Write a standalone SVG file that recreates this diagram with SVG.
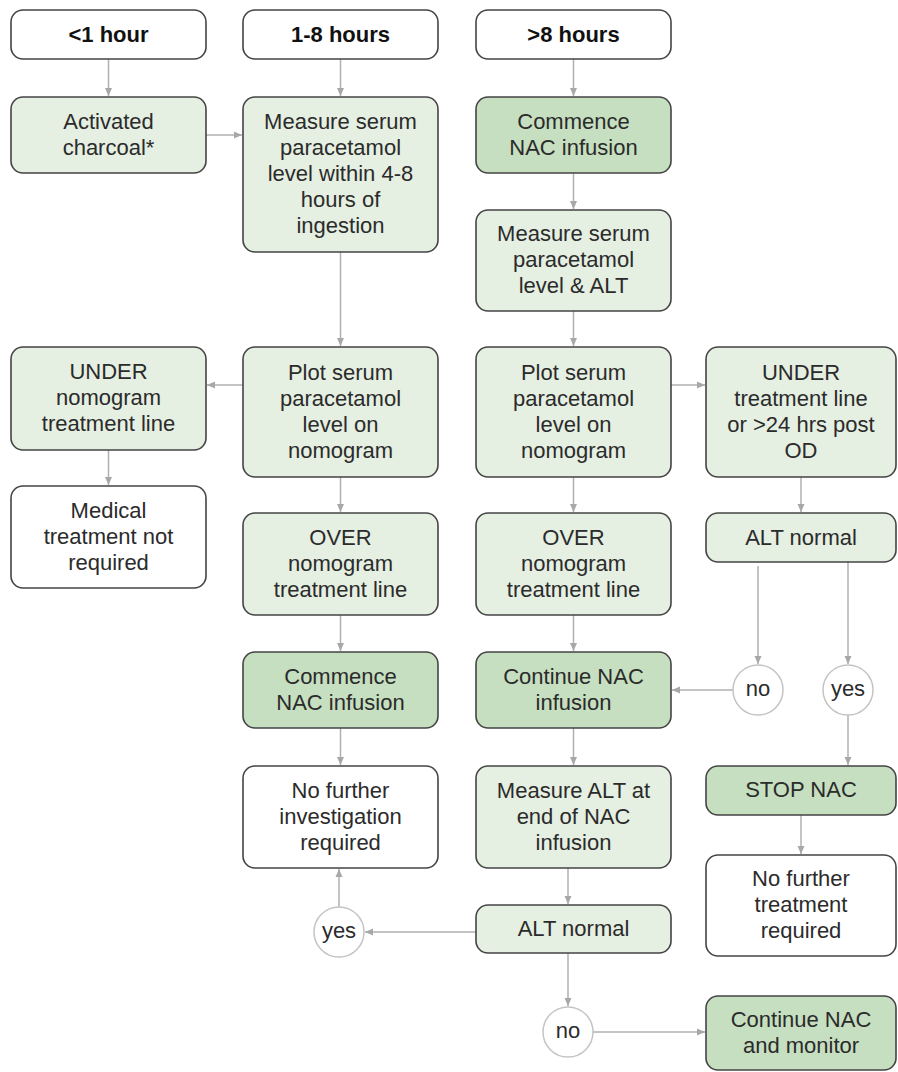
<svg xmlns="http://www.w3.org/2000/svg" width="898" height="1072" viewBox="0 0 898 1072">
<defs>
<marker id="arr" markerUnits="userSpaceOnUse" markerWidth="9" markerHeight="9" refX="8" refY="4" orient="auto">
<path d="M0,0.5 L8,4 L0,7.5 z" fill="#a8a8a8"/>
</marker>
<style>
.box{stroke:#444;stroke-width:1.6}
.w{fill:#ffffff}
.l{fill:#e5efe2}
.d{fill:#c6dfc0}
.c{fill:#ffffff;stroke:#c4c4c4;stroke-width:1.5}
text{font-family:"Liberation Sans",Arial,Helvetica,sans-serif;font-size:22px;fill:#2b2b2b;text-anchor:middle}
.b{font-weight:bold;fill:#111}
.cn path{fill:none;stroke:#b0b0b0;stroke-width:1.5;marker-end:url(#arr)}
</style>
</defs>
<rect width="898" height="1072" fill="#ffffff"/>
<g class="cn" id="connectors">
<path d="M108.5 59 V96"/>
<path d="M340.5 59 V96"/>
<path d="M573.5 59 V96"/>
<path d="M206 135 H242"/>
<path d="M340.5 252 V346"/>
<path d="M573.5 173 V209"/>
<path d="M573.5 311 V346"/>
<path d="M243 385 H207"/>
<path d="M671 385 H705"/>
<path d="M108.5 450 V485"/>
<path d="M340.5 477 V512"/>
<path d="M573.5 477 V512"/>
<path d="M801 477 V512"/>
<path d="M340.5 615 V651"/>
<path d="M573.5 615 V651"/>
<path d="M758 566 V664"/>
<path d="M848 562 V664"/>
<path d="M733 690 H672"/>
<path d="M848 715 V765"/>
<path d="M340.5 728 V765"/>
<path d="M573.5 728 V765"/>
<path d="M801 815 V854"/>
<path d="M568 868 V904"/>
<path d="M476 932 H365"/>
<path d="M339 907 V869"/>
<path d="M568 953 V1006"/>
<path d="M593 1032 H705"/>
</g>
<g id="h1"><rect class="box w" x="11" y="10" width="195" height="49" rx="12"/><text class="b" x="108.5" y="42">&lt;1 hour</text></g>
<g id="h2"><rect class="box w" x="243" y="10" width="195" height="49" rx="12"/><text class="b" x="340.5" y="42">1-8 hours</text></g>
<g id="h3"><rect class="box w" x="476" y="10" width="195" height="49" rx="12"/><text class="b" x="573.5" y="42">&gt;8 hours</text></g>
<g id="charcoal"><rect class="box l" x="11" y="97" width="195" height="76" rx="12"/><text x="108.5" y="128.5">Activated</text><text x="108.5" y="154.5">charcoal*</text></g>
<g id="measure1"><rect class="box l" x="243" y="97" width="195" height="155" rx="12"/><text x="340.5" y="129">Measure serum</text><text x="340.5" y="155">paracetamol</text><text x="340.5" y="181">level within 4-8</text><text x="340.5" y="207">hours of</text><text x="340.5" y="233">ingestion</text></g>
<g id="commence3"><rect class="box d" x="476" y="97" width="195" height="76" rx="12"/><text x="573.5" y="128.5">Commence</text><text x="573.5" y="154.5">NAC infusion</text></g>
<g id="measure3"><rect class="box l" x="476" y="210" width="195" height="101" rx="12"/><text x="573.5" y="241">Measure serum</text><text x="573.5" y="267">paracetamol</text><text x="573.5" y="293">level &amp; ALT</text></g>
<g id="under1"><rect class="box l" x="11" y="347" width="195" height="103" rx="12"/><text x="108.5" y="379">UNDER</text><text x="108.5" y="405">nomogram</text><text x="108.5" y="431">treatment line</text></g>
<g id="plot2"><rect class="box l" x="243" y="347" width="195" height="130" rx="12"/><text x="340.5" y="379.5">Plot serum</text><text x="340.5" y="405.5">paracetamol</text><text x="340.5" y="431.5">level on</text><text x="340.5" y="457.5">nomogram</text></g>
<g id="plot3"><rect class="box l" x="476" y="347" width="195" height="130" rx="12"/><text x="573.5" y="379.5">Plot serum</text><text x="573.5" y="405.5">paracetamol</text><text x="573.5" y="431.5">level on</text><text x="573.5" y="457.5">nomogram</text></g>
<g id="under4"><rect class="box l" x="706" y="347" width="190" height="130" rx="12"/><text x="801" y="379.5">UNDER</text><text x="801" y="405.5">treatment line</text><text x="801" y="431.5">or &gt;24 hrs post</text><text x="801" y="457.5">OD</text></g>
<g id="medical"><rect class="box w" x="11" y="486" width="195" height="102" rx="12"/><text x="108.5" y="517.5">Medical</text><text x="108.5" y="543.5">treatment not</text><text x="108.5" y="569.5">required</text></g>
<g id="over2"><rect class="box l" x="243" y="513" width="195" height="102" rx="12"/><text x="340.5" y="544.5">OVER</text><text x="340.5" y="570.5">nomogram</text><text x="340.5" y="596.5">treatment line</text></g>
<g id="over3"><rect class="box l" x="476" y="513" width="195" height="102" rx="12"/><text x="573.5" y="544.5">OVER</text><text x="573.5" y="570.5">nomogram</text><text x="573.5" y="596.5">treatment line</text></g>
<g id="altnormal4"><rect class="box l" x="706" y="513" width="190" height="49" rx="12"/><text x="801" y="544.5">ALT normal</text></g>
<g id="commence2"><rect class="box d" x="243" y="652" width="195" height="76" rx="12"/><text x="340.5" y="683.5">Commence</text><text x="340.5" y="709.5">NAC infusion</text></g>
<g id="continue3"><rect class="box d" x="476" y="652" width="195" height="76" rx="12"/><text x="573.5" y="683.5">Continue NAC</text><text x="573.5" y="709.5">infusion</text></g>
<g id="no4"><circle class="c" cx="758" cy="690" r="25"/><text x="758" y="696">no</text></g>
<g id="yes4"><circle class="c" cx="848" cy="690" r="25"/><text x="848" y="696">yes</text></g>
<g id="nofurther2"><rect class="box w" x="243" y="766" width="195" height="102" rx="12"/><text x="340.5" y="797.5">No further</text><text x="340.5" y="823.5">investigation</text><text x="340.5" y="849.5">required</text></g>
<g id="measurealt3"><rect class="box l" x="476" y="766" width="195" height="102" rx="12"/><text x="573.5" y="797.5">Measure ALT at</text><text x="573.5" y="823.5">end of NAC</text><text x="573.5" y="849.5">infusion</text></g>
<g id="stopnac"><rect class="box d" x="706" y="766" width="190" height="49" rx="12"/><text x="801" y="797">STOP NAC</text></g>
<g id="nofurther4"><rect class="box w" x="706" y="855" width="190" height="101" rx="12"/><text x="801" y="886">No further</text><text x="801" y="912">treatment</text><text x="801" y="938">required</text></g>
<g id="altnormal3"><rect class="box l" x="476" y="905" width="195" height="48" rx="12"/><text x="573.5" y="936">ALT normal</text></g>
<g id="yes3"><circle class="c" cx="339" cy="932" r="25"/><text x="339" y="938">yes</text></g>
<g id="no3"><circle class="c" cx="568" cy="1032" r="25"/><text x="568" y="1038">no</text></g>
<g id="continuemonitor"><rect class="box d" x="706" y="996" width="190" height="74" rx="12"/><text x="801" y="1026.5">Continue NAC</text><text x="801" y="1052.5">and monitor</text></g>
</svg>
